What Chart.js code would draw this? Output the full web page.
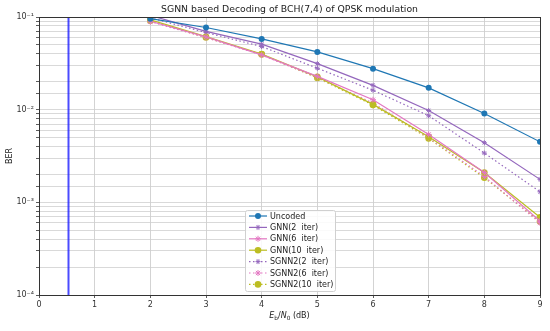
<!DOCTYPE html>
<html>
<head>
<meta charset="utf-8">
<script src="https://cdn.jsdelivr.net/npm/chart.js@4.4.1/dist/chart.umd.min.js"></script>
<style>
  html, body { margin: 0; padding: 0; background: #fff; }
  canvas { display: block; }
</style>
</head>
<body>
<canvas id="berChart" width="550" height="331"></canvas>
<script>
// Eb/N0 points (dB)
const ebn0 = [2, 3, 4, 5, 6, 7, 8, 9];

// BER values
const uncoded = [0.096, 0.077, 0.058, 0.042, 0.0277, 0.0172, 0.0091, 0.0045];
const gnn2    = [0.104, 0.070, 0.051, 0.0314, 0.0183, 0.0098, 0.0044, 0.00177];
const gnn6    = [0.090, 0.061, 0.039, 0.0229, 0.0128, 0.0054, 0.0021, 0.00063];
const gnn10   = [0.093, 0.0613, 0.0399, 0.0226, 0.0114, 0.0051, 0.0021, 0.00069];
const sgnn2   = [0.098, 0.068, 0.048, 0.028, 0.0162, 0.0086, 0.0034, 0.0013];
const sgnn6   = [0.089, 0.060, 0.039, 0.0222, 0.0118, 0.0050, 0.0019, 0.00060];
const sgnn10  = [0.091, 0.060, 0.0395, 0.022, 0.0112, 0.0049, 0.00184, 0.00062];

// vertical reference line
const refLineX = [0.53, 0.53];
const refLineY = [1e-4, 1e-1];

const xTicks = [0, 1, 2, 3, 4, 5, 6, 7, 8, 9];
const yTicks = [1e-4, 1e-3, 1e-2, 1e-1];

const BLUE = "#1f77b4", PURPLE = "#9467bd", PINK = "#e377c2", OLIVE = "#bcbd22";

function pts(ys) {
    return ebn0.map((x, i) => ({ x: x, y: ys[i] }));
}

function series(label, ys, color, marker, radius, dotted) {
    return {
        label: label,
        data: pts(ys),
        borderColor: color,
        backgroundColor: color,
        borderWidth: 1.2,
        borderDash: dotted ? [1.5, 2.5] : [],
        pointStyle: marker,
        pointRadius: radius,
        pointBorderWidth: marker === "star" ? 1 : 0,
        pointBorderColor: color,
        tension: 0,
        fill: false
    };
}

const datasets = [
    series("Uncoded", uncoded, BLUE, "circle", 3, false),
    series("GNN(2  iter)", gnn2, PURPLE, "star", 2.5, false),
    series("GNN(6  iter)", gnn6, PINK, "star", 3, false),
    series("GNN(10  iter)", gnn10, OLIVE, "circle", 3.3, false),
    series("SGNN2(2  iter)", sgnn2, PURPLE, "star", 2.5, true),
    series("SGNN2(6  iter)", sgnn6, PINK, "star", 3, true),
    series("SGNN2(10  iter)", sgnn10, OLIVE, "circle", 3.3, true),
    {
        label: "ref",
        data: refLineX.map((x, i) => ({ x: x, y: refLineY[i] })),
        borderColor: "rgba(30,30,255,0.8)",
        borderWidth: 2,
        pointRadius: 0,
        fill: false
    }
];

function sup(n) {
    const map = { "-": "\u207B", "0": "\u2070", "1": "\u00B9", "2": "\u00B2", "3": "\u00B3", "4": "\u2074" };
    return String(n).split("").map(c => map[c] || c).join("");
}

function drawMarker(ctx, style, x, y, r, color) {
    ctx.save();
    ctx.fillStyle = color;
    ctx.strokeStyle = color;
    ctx.lineWidth = 1;
    ctx.beginPath();
    if (style === "circle") {
        ctx.arc(x, y, r, 0, Math.PI * 2);
        ctx.fill();
    } else {
        for (let k = 0; k < 4; k++) {
            const a = k * Math.PI / 4;
            ctx.moveTo(x - r * Math.cos(a), y - r * Math.sin(a));
            ctx.lineTo(x + r * Math.cos(a), y + r * Math.sin(a));
        }
        ctx.stroke();
    }
    ctx.restore();
}

const decorPlugin = {
    id: "decor",
    afterDatasetsDraw(chart) {
        const ctx = chart.ctx;
        const a = chart.chartArea;
        ctx.save();
        // frame
        ctx.strokeStyle = "#333";
        ctx.lineWidth = 1;
        ctx.strokeRect(Math.round(a.left) + 0.5, Math.round(a.top) + 0.5,
            Math.round(a.right - a.left), Math.round(a.bottom - a.top));

        // title
        ctx.fillStyle = "#222";
        ctx.font = "9.3px 'DejaVu Sans'";
        ctx.textAlign = "center";
        ctx.textBaseline = "middle";
        ctx.fillText("SGNN based Decoding of BCH(7,4) of QPSK modulation", (a.left + a.right) / 2, 9.5);

        // x axis title: E_b/N_0 (dB)
        const parts = [
            ["E", "italic 8px 'DejaVu Sans'", 0],
            ["b", "5.8px 'DejaVu Sans'", 2],
            ["/", "8px 'DejaVu Sans'", 0],
            ["N", "italic 8px 'DejaVu Sans'", 0],
            ["0", "5.8px 'DejaVu Sans'", 2],
            [" (dB)", "8px 'DejaVu Sans'", 0]
        ];
        let total = 0;
        parts.forEach(p => { ctx.font = p[1]; total += ctx.measureText(p[0]).width; });
        let cx = (a.left + a.right) / 2 - total / 2;
        ctx.textAlign = "left";
        ctx.textBaseline = "alphabetic";
        parts.forEach(p => {
            ctx.font = p[1];
            ctx.fillText(p[0], cx, 318 + p[2]);
            cx += ctx.measureText(p[0]).width;
        });

        // legend
        const items = chart.data.datasets.filter(d => d.label !== "ref");
        const bx = 245, by = 210, bw = 90, bh = 81;
        ctx.fillStyle = "rgba(255,255,255,0.85)";
        ctx.strokeStyle = "#d0d0d0";
        ctx.lineWidth = 1;
        ctx.beginPath();
        ctx.roundRect(bx + 0.5, by + 0.5, bw, bh, 2);
        ctx.fill();
        ctx.stroke();
        ctx.font = "8px 'DejaVu Sans'";
        ctx.textBaseline = "middle";
        items.forEach((d, i) => {
            const y = by + 6 + i * 11.4;
            ctx.save();
            ctx.strokeStyle = d.borderColor;
            ctx.lineWidth = 1.2;
            ctx.setLineDash(d.borderDash);
            ctx.beginPath();
            ctx.moveTo(bx + 4, y);
            ctx.lineTo(bx + 22, y);
            ctx.stroke();
            ctx.restore();
            drawMarker(ctx, d.pointStyle, bx + 13, y, d.pointRadius, d.borderColor);
            ctx.fillStyle = "#222";
            ctx.fillText(d.label, bx + 25, y + 0.5);
        });
        ctx.restore();
    }
};

new Chart(document.getElementById("berChart"), {
    type: "line",
    data: { datasets: datasets },
    options: {
        responsive: false,
        animation: false,
        devicePixelRatio: 1,
        layout: { padding: { top: 17, right: 10, left: 0, bottom: 0 } },
        plugins: {
            legend: { display: false },
            title: { display: false },
            tooltip: { enabled: false }
        },
        scales: {
            x: {
                type: "linear",
                min: 0,
                max: 9,
                afterFit: s => { s.height = 36; },
                afterBuildTicks: s => { s.ticks = xTicks.map(v => ({ value: v })); },
                ticks: { color: "#333", font: { size: 8, family: "'DejaVu Sans'" }, padding: 2, maxRotation: 0 },
                grid: { color: "#c8c8c8", lineWidth: 0.8, tickLength: 3, tickColor: "#333" },
                border: { color: "#333" }
            },
            y: {
                type: "logarithmic",
                min: 1e-4,
                max: 1e-1,
                afterFit: s => { s.width = 39; },
                ticks: {
                    autoSkip: false,
                    color: "#333",
                    font: { size: 8, family: "'DejaVu Sans'" },
                    padding: 2,
                    callback: function (v) {
                        const e = Math.log10(v);
                        if (Math.abs(e - Math.round(e)) < 1e-6 && yTicks.some(t => Math.abs(Math.log10(t) - e) < 1e-6)) {
                            return "10" + sup(Math.round(e));
                        }
                        return "";
                    }
                },
                grid: {
                    color: "#cfcfcf",
                    lineWidth: 0.8,
                    tickLength: 3,
                    tickColor: "#333"
                },
                border: { color: "#333" },
                title: { display: true, text: "BER", color: "#222", font: { size: 8, family: "'DejaVu Sans'" }, padding: { top: 5, bottom: 0 } }
            }
        }
    },
    plugins: [decorPlugin]
});
</script>
</body>
</html>
